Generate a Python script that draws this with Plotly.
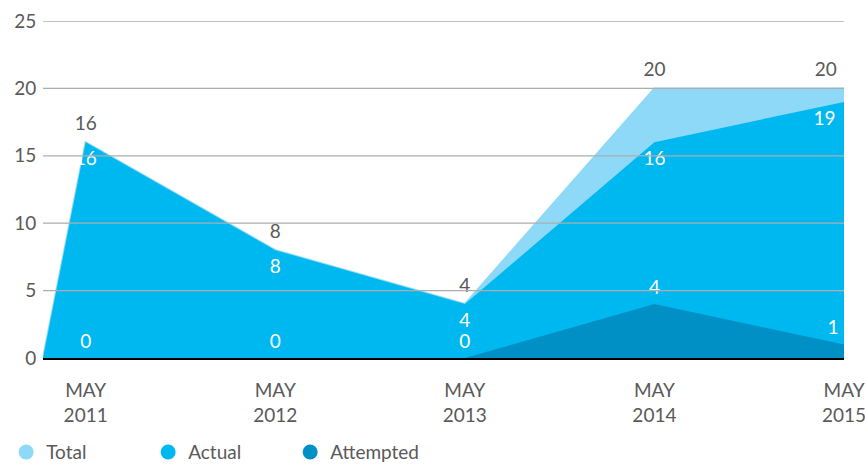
import plotly.graph_objects as go

# ---- data ----
periods = ["MAY<br>2011", "MAY<br>2012", "MAY<br>2013", "MAY<br>2014", "MAY<br>2015"]
total = [16, 8, 4, 20, 20]
actual = [16, 8, 4, 16, 19]
attempted = [0, 0, 0, 4, 1]
start_value = 0          # every series rises from zero at the left edge
y_ticks = [0, 5, 10, 15, 20, 25]

# ---- styling ----
C_TOTAL = "#8ED8F8"
C_ACTUAL = "#00B8F0"
C_ATT = "#0090C6"
GREY = "#595959"
FONT = "Lato"
FS = 19
x_start = -0.225          # axis starts a little before the first period

idx = list(range(len(periods)))
xs = [x_start] + idx

def labels(vals):
    return [""] + [str(v) for v in vals]

def positions(vert, n):
    # last label is tucked inside the plot area, like the original
    return [f"{vert} center"] * n + [f"{vert} left"]

def area(vals, fill, line_w, txt_col, vert, pad):
    # invisible markers of size `pad` push the value labels away from the points
    return go.Scatter(
        x=xs, y=[start_value] + vals, mode="lines+markers+text", fill="tozeroy",
        fillcolor=fill, line=dict(color=fill, width=line_w),
        marker=dict(size=pad, color="rgba(0,0,0,0)"),
        text=labels(vals), textposition=positions(vert, len(vals)),
        textfont=dict(color=txt_col, size=FS, family=FONT),
        showlegend=False, hoverinfo="skip", cliponaxis=False)

fig = go.Figure()
fig.add_trace(area(total, C_TOTAL, 2, GREY, "top", 10))
fig.add_trace(area(actual, C_ACTUAL, 0, "white", "bottom", 12))
fig.add_trace(area(attempted, C_ATT, 0, "white", "top", 7))

# legend entries (circle markers)
for name, col in [("Total", C_TOTAL), ("Actual", C_ACTUAL), ("Attempted", C_ATT)]:
    fig.add_trace(go.Scatter(
        x=[None], y=[None], mode="markers", name=name,
        marker=dict(color=col, size=15, symbol="circle")))

# gridlines drawn above the areas
for v in y_ticks[1:]:
    fig.add_shape(type="line", xref="paper", x0=0, x1=1, yref="y", y0=v, y1=v,
                  line=dict(color="#ADADAD", width=1.3), layer="above")

fig.update_layout(
    width=865, height=466,
    margin=dict(l=43, r=21, t=21, b=108, autoexpand=False),
    paper_bgcolor="white", plot_bgcolor="white",
    font=dict(family=FONT, size=FS, color=GREY),
    legend=dict(orientation="h", x=-0.046, xanchor="left", y=-0.223, yanchor="top",
                font=dict(size=FS, color=GREY), itemsizing="trace",
                entrywidth=97, entrywidthmode="pixels"),
    xaxis=dict(range=[x_start, len(periods) - 1], tickmode="array",
               tickvals=idx, ticktext=periods, showgrid=False, zeroline=False,
               showline=True, linecolor="black", linewidth=2,
               ticks="outside", ticklen=14, tickcolor="rgba(0,0,0,0)",
               tickfont=dict(size=FS, color=GREY), automargin=False,
               ticklabeloverflow="allow"),
    yaxis=dict(range=[0, 25], tickvals=y_ticks, showgrid=False, zeroline=False,
               ticks="outside", ticklen=2, tickcolor="rgba(0,0,0,0)",
               tickfont=dict(size=FS, color=GREY), automargin=False),
)

fig.write_html("out.html", config={"displayModeBar": False},
               post_script="document.body.style.margin='0';document.body.style.padding='0';")
